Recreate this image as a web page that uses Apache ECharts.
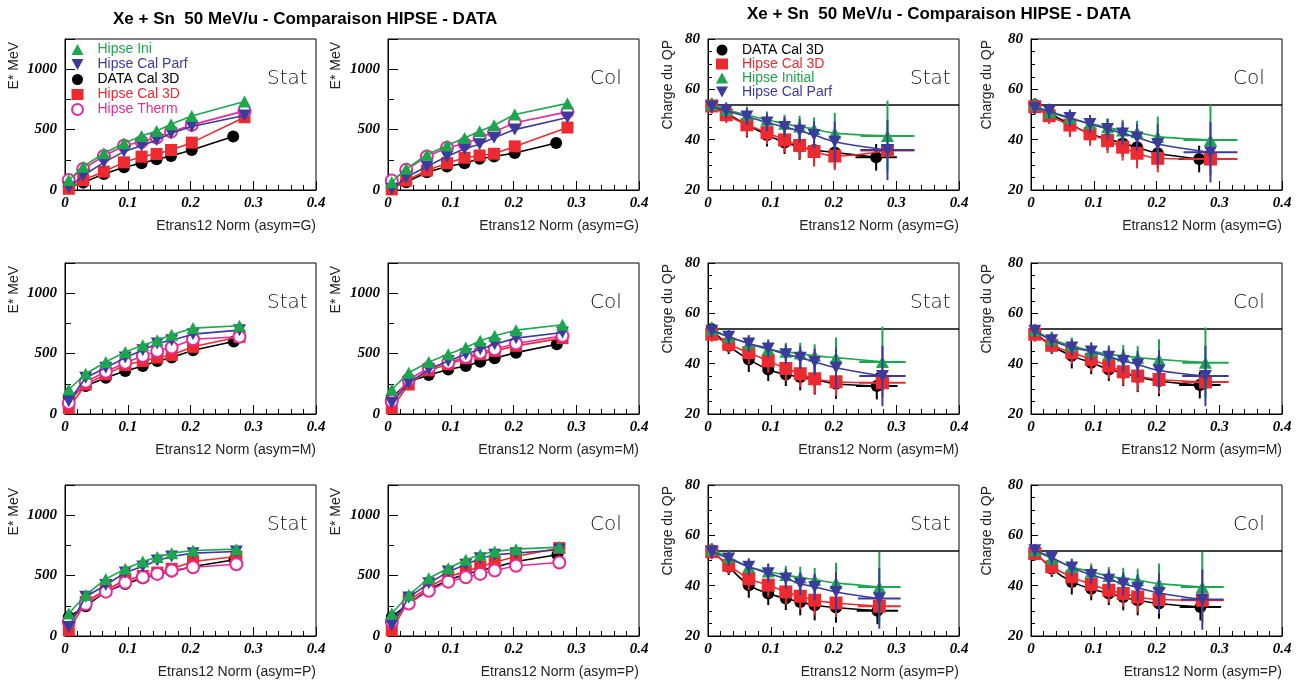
<!DOCTYPE html>
<html><head><meta charset="utf-8">
<script src="https://cdn.jsdelivr.net/npm/echarts@6/dist/echarts.min.js"></script>
<style>html,body{margin:0;padding:0;background:#fff}#c{width:1304px;height:684px}</style>
</head><body><div id="c"></div>
<script>
// ---------------- DATA ----------------
const TITLE = 'Xe + Sn  50 MeV/u - Comparaison HIPSE - DATA';
const X_TICKS = [0, 0.1, 0.2, 0.3, 0.4];

// x positions (Etrans12 Norm) per asymmetry row
const X_G      = [0.006, 0.029, 0.062, 0.094, 0.122, 0.146, 0.169, 0.202, 0.286];
const X_G_DATA = [0.006, 0.029, 0.062, 0.094, 0.122, 0.146, 0.169, 0.202, 0.268];
const X_M      = [0.006, 0.033, 0.065, 0.096, 0.124, 0.147, 0.170, 0.204, 0.278];
const X_M_DATA = [0.006, 0.033, 0.065, 0.096, 0.124, 0.147, 0.170, 0.204, 0.269];
const X_P      = [0.006, 0.033, 0.065, 0.096, 0.124, 0.147, 0.170, 0.204, 0.273];
const X_P_DATA = [0.006, 0.033, 0.065, 0.096, 0.124, 0.147, 0.170, 0.204, 0.270];

// E* (MeV)
const E_G_STAT_INI   = [83, 193, 304, 387, 448, 489, 544, 613, 732];
const E_G_STAT_PARF  = [20, 119, 229, 318, 367, 414, 470, 525, 616];
const E_G_STAT_DATA  = [28, 61, 133, 188, 221, 254, 282, 331, 442];
const E_G_STAT_CAL3D = [10, 83, 152, 229, 276, 298, 331, 392, 602];
const E_G_STAT_THERM = [83, 174, 282, 367, 400, 434, 483, 539, 655];

const E_G_COL_INI   = [64, 175, 292, 369, 431, 486, 536, 625, 717];
const E_G_COL_PARF  = [8, 106, 194, 278, 342, 378, 433, 500, 600];
const E_G_COL_DATA  = [22, 64, 147, 194, 222, 258, 278, 306, 389];
const E_G_COL_CAL3D = [5, 78, 161, 222, 267, 286, 300, 361, 517];
const E_G_COL_THERM = [78, 167, 278, 350, 383, 433, 481, 556, 647];

const E_M_STAT_INI   = [203, 333, 430, 514, 569, 611, 656, 711, 730];
const E_M_STAT_PARF  = [105, 300, 383, 467, 528, 583, 611, 661, 694];
const E_M_STAT_DATA  = [133, 231, 300, 356, 397, 439, 467, 528, 600];
const E_M_STAT_CAL3D = [50, 244, 328, 406, 439, 467, 489, 556, 639];
const E_M_STAT_THERM = [92, 267, 350, 425, 481, 522, 550, 619, 639];

const E_M_COL_INI   = [203, 342, 430, 494, 550, 606, 647, 694, 739];
const E_M_COL_PARF  = [92, 258, 369, 439, 494, 536, 578, 628, 675];
const E_M_COL_DATA  = [133, 267, 322, 369, 397, 433, 461, 508, 578];
const E_M_COL_CAL3D = [50, 244, 361, 411, 461, 494, 522, 564, 628];
const E_M_COL_THERM = [105, 286, 383, 425, 472, 508, 536, 583, 647];

const E_P_STAT_INI   = [186, 339, 472, 556, 617, 653, 686, 708, 719];
const E_P_STAT_PARF  = [75, 325, 422, 525, 575, 625, 658, 686, 700];
const E_P_STAT_DATA  = [158, 247, 367, 431, 478, 514, 533, 575, 631];
const E_P_STAT_CAL3D = [47, 283, 381, 464, 497, 525, 556, 617, 658];
const E_P_STAT_THERM = [117, 264, 367, 442, 486, 514, 542, 569, 594];

const E_P_COL_INI   = [186, 339, 478, 561, 631, 672, 700, 719, 736];
const E_P_COL_PARF  = [89, 319, 436, 533, 589, 644, 672, 686, 714];
const E_P_COL_DATA  = [158, 269, 386, 464, 514, 542, 569, 617, 672];
const E_P_COL_CAL3D = [47, 297, 403, 492, 533, 575, 611, 658, 728];
const E_P_COL_THERM = [117, 269, 375, 450, 486, 514, 542, 581, 608];

// Charge du QP
const Z_G_STAT_DATA  = [53.5, 50.5, 45.9, 41.9, 38.9, 37.3, 35.9, 34.9, 33.0];
const Z_G_STAT_CAL3D = [53.4, 49.9, 45.9, 42.8, 39.9, 37.7, 35.3, 33.5, 35.7];
const Z_G_STAT_INI   = [54.1, 51.9, 49.9, 47.9, 46.3, 45.2, 44.2, 42.6, 41.5];
const Z_G_STAT_PARF  = [53.2, 51.5, 49.2, 46.8, 45.0, 43.5, 41.9, 39.2, 35.9];

const Z_G_COL_DATA  = [53.8, 50.5, 46.2, 42.3, 40.3, 38.5, 37.0, 34.6, 32.3];
const Z_G_COL_CAL3D = [53.1, 49.5, 45.8, 42.3, 39.6, 37.0, 34.6, 32.6, 32.3];
const Z_G_COL_INI   = [54.0, 50.9, 48.6, 46.5, 44.9, 43.6, 42.9, 41.2, 39.9];
const Z_G_COL_PARF  = [52.6, 51.3, 48.6, 46.2, 44.2, 42.5, 40.9, 38.3, 35.0];

const Z_M_STAT_DATA  = [53.7, 47.1, 41.7, 37.7, 35.7, 34.7, 33.7, 32.0, 31.1];
const Z_M_STAT_CAL3D = [51.7, 47.7, 44.4, 41.1, 38.1, 36.0, 34.0, 32.8, 32.4];
const Z_M_STAT_INI   = [53.7, 50.7, 48.0, 45.7, 44.7, 44.0, 43.1, 42.4, 40.7];
const Z_M_STAT_PARF  = [53.1, 50.7, 48.0, 46.0, 43.7, 42.4, 40.7, 38.4, 35.1];

const Z_M_COL_DATA  = [52.4, 47.1, 43.1, 40.4, 37.7, 36.4, 34.7, 33.1, 31.5];
const Z_M_COL_CAL3D = [51.7, 47.3, 44.4, 41.7, 39.1, 36.8, 35.1, 33.7, 32.7];
const Z_M_COL_INI   = [53.3, 49.7, 47.1, 45.1, 43.7, 43.1, 42.4, 41.7, 40.4];
const Z_M_COL_PARF  = [53.1, 49.3, 46.4, 44.8, 42.7, 41.1, 39.7, 37.3, 35.1];

const Z_P_STAT_DATA  = [54.1, 47.5, 40.2, 36.9, 34.9, 33.5, 32.2, 31.3, 30.0];
const Z_P_STAT_CAL3D = [53.5, 48.1, 42.8, 40.2, 37.5, 35.8, 34.2, 33.1, 31.8];
const Z_P_STAT_INI   = [54.4, 51.3, 47.5, 45.6, 44.2, 43.2, 42.4, 41.1, 39.5];
const Z_P_STAT_PARF  = [53.5, 50.8, 47.5, 44.9, 42.8, 40.8, 39.5, 37.5, 34.9];

const Z_P_COL_DATA  = [53.5, 46.8, 41.5, 38.8, 36.9, 35.5, 34.2, 32.9, 31.5];
const Z_P_COL_CAL3D = [52.8, 47.5, 43.5, 40.5, 38.2, 36.9, 35.5, 34.5, 34.2];
const Z_P_COL_INI   = [54.1, 50.8, 47.5, 45.5, 43.8, 42.8, 42.2, 40.8, 39.5];
const Z_P_COL_PARF  = [54.1, 51.2, 47.2, 44.2, 42.4, 40.8, 39.2, 37.1, 34.5];

// vertical error half-widths (charge) and horizontal error of last point
const ERR_DATA  = [2.7, 3.3, 5.0, 4.6, 4.6, 5.3, 6.0, 6.0, 5.3];
const ERR_CAL3D = [3.0, 3.3, 4.6, 4.6, 5.0, 5.3, 6.0, 5.6, 3.0];
const ERR_INI   = [2.5, 3.0, 3.3, 3.3, 3.6, 4.3, 4.6, 8.0, 14.0];
const ERR_PARF  = [2.5, 3.0, 3.3, 3.6, 4.0, 4.6, 5.3, 8.0, 12.0];
const XERR_LAST_DATA  = 0.033;
const XERR_LAST_HIPSE = [0.043, 0.037, 0.034]; // rows G, M, P
const Z_REF = 54;

// ---------------- STRUCTURE ----------------
const C_INI = '#1ea64e', C_PARF = '#3b3b9e', C_DATA = '#000000', C_CAL3D = '#ec2a30', C_THERM = '#e8299b';
const INV_TRI = 'path://M0,0L20,0L10,18Z';

const ROWS = [
  {asym: 'G', x: X_G, xd: X_G_DATA,
   E: {Stat: {ini: E_G_STAT_INI, parf: E_G_STAT_PARF, data: E_G_STAT_DATA, cal3d: E_G_STAT_CAL3D, therm: E_G_STAT_THERM},
       Col:  {ini: E_G_COL_INI, parf: E_G_COL_PARF, data: E_G_COL_DATA, cal3d: E_G_COL_CAL3D, therm: E_G_COL_THERM}},
   Z: {Stat: {ini: Z_G_STAT_INI, parf: Z_G_STAT_PARF, data: Z_G_STAT_DATA, cal3d: Z_G_STAT_CAL3D},
       Col:  {ini: Z_G_COL_INI, parf: Z_G_COL_PARF, data: Z_G_COL_DATA, cal3d: Z_G_COL_CAL3D}}},
  {asym: 'M', x: X_M, xd: X_M_DATA,
   E: {Stat: {ini: E_M_STAT_INI, parf: E_M_STAT_PARF, data: E_M_STAT_DATA, cal3d: E_M_STAT_CAL3D, therm: E_M_STAT_THERM},
       Col:  {ini: E_M_COL_INI, parf: E_M_COL_PARF, data: E_M_COL_DATA, cal3d: E_M_COL_CAL3D, therm: E_M_COL_THERM}},
   Z: {Stat: {ini: Z_M_STAT_INI, parf: Z_M_STAT_PARF, data: Z_M_STAT_DATA, cal3d: Z_M_STAT_CAL3D},
       Col:  {ini: Z_M_COL_INI, parf: Z_M_COL_PARF, data: Z_M_COL_DATA, cal3d: Z_M_COL_CAL3D}}},
  {asym: 'P', x: X_P, xd: X_P_DATA,
   E: {Stat: {ini: E_P_STAT_INI, parf: E_P_STAT_PARF, data: E_P_STAT_DATA, cal3d: E_P_STAT_CAL3D, therm: E_P_STAT_THERM},
       Col:  {ini: E_P_COL_INI, parf: E_P_COL_PARF, data: E_P_COL_DATA, cal3d: E_P_COL_CAL3D, therm: E_P_COL_THERM}},
   Z: {Stat: {ini: Z_P_STAT_INI, parf: Z_P_STAT_PARF, data: Z_P_STAT_DATA, cal3d: Z_P_STAT_CAL3D},
       Col:  {ini: Z_P_COL_INI, parf: Z_P_COL_PARF, data: Z_P_COL_DATA, cal3d: Z_P_COL_CAL3D}}}
];

const LEFT_DEFS = [
  {key: 'data',  name: 'DATA Cal 3D',    color: C_DATA,  symbol: 'circle',      size: 12},
  {key: 'cal3d', name: 'Hipse Cal 3D',   color: C_CAL3D, symbol: 'rect',        size: 12},
  {key: 'therm', name: 'Hipse Therm',    color: C_THERM, symbol: 'emptyCircle', size: 12},
  {key: 'parf',  name: 'Hipse Cal Parf', color: C_PARF,  symbol: INV_TRI,       size: [13, 12]},
  {key: 'ini',   name: 'Hipse Ini',      color: C_INI,   symbol: 'triangle',    size: [13, 12]}
];
const RIGHT_DEFS = [
  {key: 'data',  name: 'DATA Cal 3D',    color: C_DATA,  symbol: 'circle',   size: 12, err: ERR_DATA},
  {key: 'cal3d', name: 'Hipse Cal 3D',   color: C_CAL3D, symbol: 'rect',     size: 13, err: ERR_CAL3D},
  {key: 'ini',   name: 'Hipse Initial',  color: C_INI,   symbol: 'triangle', size: [13, 12], err: ERR_INI},
  {key: 'parf',  name: 'Hipse Cal Parf', color: C_PARF,  symbol: INV_TRI,    size: [13, 12], err: ERR_PARF}
];

const COL_LEFT = [65, 388, 708, 1031], COL_W = 251;
const ROW_TOP = [39, 263, 485], ROW_H = 151;
const YNAME_X = [14, 336, 668, 987];
const FONT_SANS = '"Liberation Sans", Arial, sans-serif';
const FONT_TICK = '"Liberation Serif", "Times New Roman", serif';

const grids = [], xAxes = [], yAxes = [], series = [], graphics = [];

function pts(xs, ys) { return xs.map((x, i) => [x, ys[i]]); }

ROWS.forEach((row, r) => {
  for (let c = 0; c < 4; c++) {
    const gi = r * 4 + c;
    const isE = c < 2;
    const mode = (c % 2 === 0) ? 'Stat' : 'Col';
    const left = COL_LEFT[c], top = ROW_TOP[r];
    grids.push({left: left, top: top, width: COL_W, height: ROW_H, show: true,
      borderColor: '#000', borderWidth: 1, backgroundColor: 'transparent', containLabel: false, outerBoundsMode: 'none'});
    xAxes.push({gridIndex: gi, type: 'value', min: 0, max: 0.4, interval: 0.1,
      axisLine: {show: true, lineStyle: {color: '#000', width: 1}},
      axisTick: {inside: true, length: 9, lineStyle: {color: '#000', width: 1}},
      minorTick: {show: true, splitNumber: 5, length: 5, lineStyle: {color: '#000', width: 1}},
      splitLine: {show: false},
      axisLabel: {margin: 6, color: '#000', fontFamily: FONT_TICK, fontWeight: 'bold', fontStyle: 'italic', fontSize: 15,
        formatter: v => (X_TICKS.some(t => Math.abs(t - v) < 1e-9) ? (v === 0 ? '0' : v.toFixed(1)) : '')}});
    if (isE) {
      yAxes.push({gridIndex: gi, type: 'value', min: 0, max: 1250, interval: 500,
        axisLine: {show: true, lineStyle: {color: '#000', width: 1}},
        axisTick: {inside: true, length: 10, lineStyle: {color: '#000', width: 1}},
        minorTick: {show: true, splitNumber: 2, length: 6, lineStyle: {color: '#000', width: 1}},
        splitLine: {show: false},
        axisLabel: {margin: 8, color: '#000', fontFamily: FONT_TICK, fontWeight: 'bold', fontStyle: 'italic', fontSize: 15,
          formatter: v => (v % 500 === 0 ? String(v) : '')}});
    } else {
      yAxes.push({gridIndex: gi, type: 'value', min: 20, max: 80, interval: 20,
        axisLine: {show: true, lineStyle: {color: '#000', width: 1}},
        axisTick: {inside: true, length: 7, lineStyle: {color: '#000', width: 1}},
        minorTick: {show: true, splitNumber: 4, length: 4, lineStyle: {color: '#000', width: 1}},
        splitLine: {show: false},
        axisLabel: {margin: 8, color: '#000', fontFamily: FONT_TICK, fontWeight: 'bold', fontStyle: 'italic', fontSize: 15}});
    }

    if (isE) {
      const set = row.E[mode];
      LEFT_DEFS.forEach((d, k) => {
        const xs = d.key === 'data' ? row.xd : row.x;
        series.push({type: 'line', name: d.name, xAxisIndex: gi, yAxisIndex: gi, z: 3 + k,
          data: pts(xs, set[d.key]), symbol: d.symbol, symbolSize: d.size, showAllSymbol: true,
          itemStyle: {color: d.color, borderColor: d.color, borderWidth: d.symbol === 'emptyCircle' ? 1.8 : 0},
          lineStyle: {color: d.color, width: 1.6}, emphasis: {disabled: true}, animation: false});
      });
    } else {
      const set = row.Z[mode];
      RIGHT_DEFS.forEach((d, k) => {
        const xs = d.key === 'data' ? row.xd : row.x;
        const ys = set[d.key];
        const xeLast = d.key === 'data' ? XERR_LAST_DATA : XERR_LAST_HIPSE[r];
        const color = d.color;
        series.push({type: 'custom', xAxisIndex: gi, yAxisIndex: gi, z: 2 + 2 * k, silent: true, clip: true,
          data: xs.map((x, i) => [x, ys[i], d.err[i], i === xs.length - 1 ? xeLast : 0]),
          encode: {x: 0, y: 1},
          renderItem: function (params, api) {
            const x = api.value(0), y = api.value(1), e = api.value(2), xe = api.value(3);
            const a = api.coord([x, y - e]), b = api.coord([x, y + e]);
            const ch = [{type: 'line', shape: {x1: a[0], y1: a[1], x2: b[0], y2: b[1]}, style: {stroke: color, lineWidth: 2}}];
            if (xe > 0) {
              const l = api.coord([x - xe, y]), rr = api.coord([x + xe, y]);
              ch.push({type: 'line', shape: {x1: l[0], y1: l[1], x2: rr[0], y2: rr[1]}, style: {stroke: color, lineWidth: 2}});
            }
            return {type: 'group', children: ch};
          }, animation: false});
        const s = {type: 'line', name: d.name, xAxisIndex: gi, yAxisIndex: gi, z: 3 + 2 * k,
          data: pts(xs, ys), smooth: 0.35, symbol: d.symbol, symbolSize: d.size, showAllSymbol: true,
          itemStyle: {color: color}, lineStyle: {color: color, width: 1.6},
          emphasis: {disabled: true}, animation: false};
        if (k === 0) {
          s.markLine = {silent: true, symbol: ['none', 'none'], label: {show: false}, animation: false,
            lineStyle: {color: '#000', width: 1.5, type: 'solid'}, emphasis: {disabled: true},
            data: [{yAxis: Z_REF}]};
        }
        series.push(s);
      });
    }

    // axis names and panel tags
    graphics.push({type: 'text', x: left + COL_W, y: top + ROW_H + 36, silent: true,
      style: {text: 'Etrans12 Norm (asym=' + row.asym + ')', align: 'right', verticalAlign: 'middle',
        font: '14px ' + FONT_SANS, fill: '#222'}});
    graphics.push({type: 'text', x: YNAME_X[c], y: top + (isE ? 3 : 1), rotation: Math.PI / 2, silent: true,
      style: {text: isE ? 'E* MeV' : 'Charge du QP', align: 'right', verticalAlign: 'middle',
        font: '14px ' + FONT_SANS, fill: '#222'}});
    graphics.push({type: 'text', x: left + 202, y: top + 40, silent: true,
      style: {text: mode, align: 'left', verticalAlign: 'middle',
        font: '300 20px "DejaVu Sans", sans-serif', fill: '#111'}});
  }
});

const option = {
  animation: false,
  backgroundColor: '#fff',
  title: [
    {text: TITLE, left: 113, top: 11, padding: 0,
     textStyle: {fontFamily: FONT_SANS, fontWeight: 'bold', fontSize: 17, color: '#000'}},
    {text: TITLE, left: 747, top: 6, padding: 0,
     textStyle: {fontFamily: FONT_SANS, fontWeight: 'bold', fontSize: 17, color: '#000'}}
  ],
  legend: [
    {orient: 'vertical', left: 71, top: 42, padding: 0, itemGap: 0, itemWidth: 12, itemHeight: 11,
     selectedMode: false,
     textStyle: {fontFamily: FONT_SANS, fontSize: 14, lineHeight: 15, padding: [0, 0, 0, 9]},
     data: [
       {name: 'Hipse Ini', icon: 'triangle', textStyle: {color: C_INI}},
       {name: 'Hipse Cal Parf', icon: INV_TRI, textStyle: {color: C_PARF}},
       {name: 'DATA Cal 3D', icon: 'circle', textStyle: {color: '#000'}},
       {name: 'Hipse Cal 3D', icon: 'rect', textStyle: {color: C_CAL3D}},
       {name: 'Hipse Therm', icon: 'emptyCircle', textStyle: {color: C_THERM}}
     ]},
    {orient: 'vertical', left: 716, top: 43, padding: 0, itemGap: 0, itemWidth: 12, itemHeight: 11,
     selectedMode: false,
     textStyle: {fontFamily: FONT_SANS, fontSize: 14, lineHeight: 12.7, padding: [0, 0, 0, 9]},
     data: [
       {name: 'DATA Cal 3D', icon: 'circle', textStyle: {color: '#000'}},
       {name: 'Hipse Cal 3D', icon: 'rect', textStyle: {color: C_CAL3D}},
       {name: 'Hipse Initial', icon: 'triangle', textStyle: {color: C_INI}},
       {name: 'Hipse Cal Parf', icon: INV_TRI, textStyle: {color: C_PARF}}
     ]}
  ],
  grid: grids,
  xAxis: xAxes,
  yAxis: yAxes,
  series: series,
  graphic: graphics
};

const chart = echarts.init(document.getElementById('c'), null, {renderer: 'canvas'});
chart.setOption(option);
</script></body></html>
